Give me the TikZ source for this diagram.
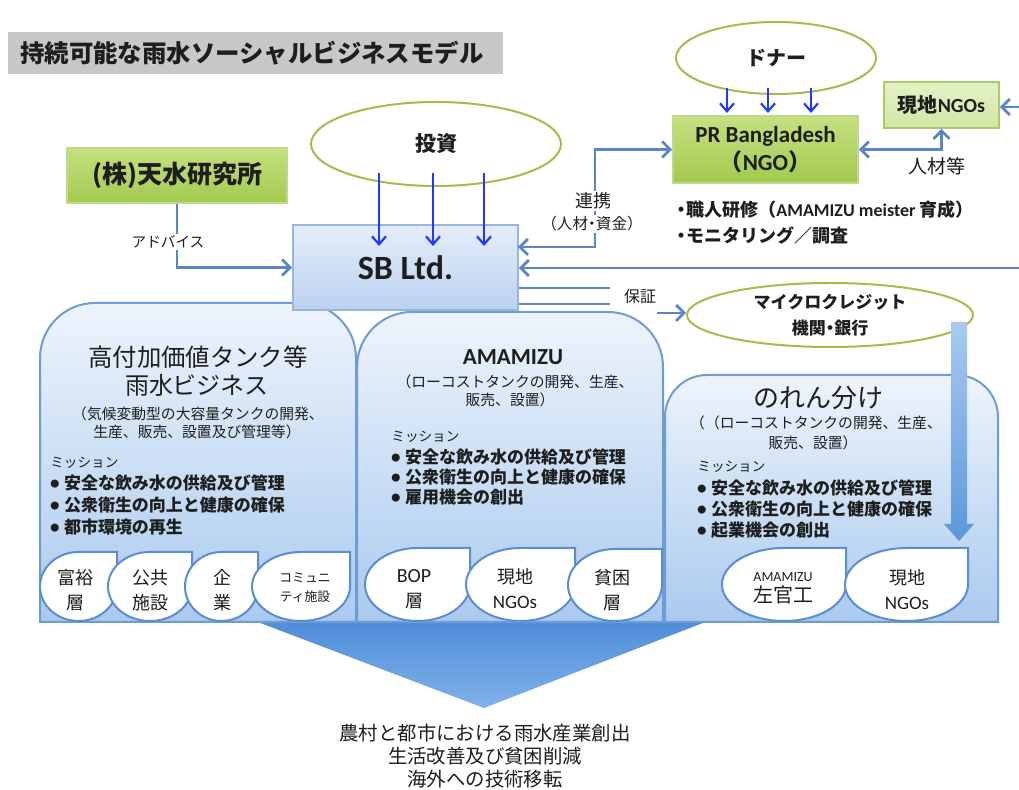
\documentclass[tikz,border=0pt]{standalone}
\usepackage{fontspec}
\setmainfont{Noto Sans CJK JP}
\newfontfamily\lat{Carlito}
\usetikzlibrary{shapes.geometric,arrows.meta}
\definecolor{txt}{HTML}{1E1E1E}
\definecolor{titlegray}{HTML}{C8C8C8}
\definecolor{olive}{HTML}{A9BA48}
\definecolor{conn}{HTML}{5A86C8}
\definecolor{barrow}{HTML}{2039FF}
\definecolor{gtop}{HTML}{C6E081}
\definecolor{gbot}{HTML}{A2C94F}
\definecolor{gdraw}{HTML}{BFD88A}
\definecolor{ltop}{HTML}{E4F1C6}
\definecolor{lbot}{HTML}{D2E7A5}
\definecolor{ldraw}{HTML}{A9CB6C}
\definecolor{sbtop}{HTML}{E5EDFA}
\definecolor{sbbot}{HTML}{BBD1F0}
\definecolor{sbdraw}{HTML}{98B5DD}
\definecolor{ptop}{HTML}{EEF4FC}
\definecolor{pbot}{HTML}{AACAEE}
\definecolor{pdraw}{HTML}{6E9CD4}
\definecolor{leafdraw}{HTML}{5A8ED0}
\definecolor{tritop}{HTML}{4F8DD8}
\definecolor{tribot}{HTML}{80B2EA}
\definecolor{bigtop}{HTML}{A8CAF0}
\definecolor{bigbot}{HTML}{5B97DC}
\tikzset{
 t/.style={inner sep=0pt, text=txt},
 ell/.style={ellipse, draw=olive, line width=1pt, fill=white, inner sep=0pt, text=txt},
 gbox/.style={rectangle, draw=gdraw, line width=0.8pt, top color=gtop, bottom color=gbot, inner sep=0pt, text=txt},
 lbox/.style={rectangle, draw=ldraw, line width=0.8pt, top color=ltop, bottom color=lbot, inner sep=0pt, text=txt},
 sbbox/.style={rectangle, draw=sbdraw, line width=0.8pt, top color=sbtop, bottom color=sbbot, inner sep=0pt, text=txt},
 link/.style={draw=conn, line width=1.4pt},
 tip/.style={-{Straight Barb[length=4pt,width=8pt]}},
 tips/.style={{Straight Barb[length=4pt,width=8pt]}-{Straight Barb[length=4pt,width=8pt]}},
 downarrow/.style={draw=barrow, line width=1.1pt, -{Straight Barb[length=4pt,width=7pt]}},
 panel/.style={draw=pdraw, line width=1pt, top color=ptop, bottom color=pbot},
 leaf/.style={draw=leafdraw, line width=1pt, fill=white},
 lab/.style={inner sep=1pt, fill=white, text=txt},
 bul/.style={t, anchor=west, font=\bfseries\fontsize{8.5}{10}\selectfont},
}
\newcommand\leafpath[4]{\draw[leaf] (#2,#3) -- ({(#1+#2)/2},#3) arc[start angle=270,end angle=0,x radius={(#2-#1)/2},y radius={(#4-#3)/2}] -- cycle;}
\newcommand\panelpath[5]{\draw[panel] (#1,#4) -- (#1,{#3+#5}) arc[start angle=180,end angle=270,radius=#5] -- ({#2-#5},#3) arc[start angle=270,end angle=360,radius=#5] -- (#2,#4) -- cycle;}
\newcommand\bdot{\makebox[0.8em][l]{\raisebox{0.12em}{\fontsize{4.5}{5}\selectfont ●}}}
\newcommand\ndot{\makebox[0.5em][c]{・}}
\begin{document}
\begin{tikzpicture}[x=0.5pt,y=-0.5pt]
\useasboundingbox (0,0) rectangle (1019,790);
\fill[white] (0,0) rectangle (1019,790);

% title
\node[fill=titlegray, minimum width=247.5pt, minimum height=21pt, inner sep=0pt] (titlebox) at (255.5,53) {};
\node[t, anchor=west, font=\bfseries\fontsize{12.2}{14}\selectfont] (title) at (20,53) {持続可能な雨水ソーシャルビジネスモデル};

% big triangle
\shade[top color=tritop, bottom color=tribot] (255,621) -- (708,621) -- (484,708) -- cycle;

% panels
\panelpath{40}{356}{303}{622}{55}
\panelpath{357}{663}{312}{622}{55}
\panelpath{665}{998}{375}{622}{42}

% leaves
\leafpath{40}{117}{552}{621}
\leafpath{108}{192}{552}{621}
\leafpath{185}{258}{552}{621}
\leafpath{252}{350}{552}{621}
\leafpath{365}{470}{548}{621}
\leafpath{466}{575}{548}{621}
\leafpath{568}{662}{549}{621}
\leafpath{722}{846}{548}{621}
\leafpath{845}{968}{548}{621}

\begin{scope}[every node/.style={t, align=center, font=\fontsize{9}{12.5}\selectfont}]
\node (l1) at (75,590) {富裕\\層};
\node (l2) at (150,590) {公共\\施設};
\node (l3) at (222,590) {企\\業};
\node[font=\fontsize{6.4}{9.5}\selectfont] (l4) at (305,588) {コミュニ\\ティ施設};
\node (m1) at (414,589) {{\lat\fontsize{10}{12}\selectfont BOP}\\層};
\node (m2) at (515,589) {現地\\{\lat\fontsize{9.5}{12}\selectfont NGOs}};
\node (m3) at (612,590) {貧困\\層};
\node[font=\fontsize{10}{10}\selectfont] (r1) at (783,595) {左官工};
\node[font=\fontsize{7}{8}\selectfont] (r1b) at (783,577) {\lat AMAMIZU};
\node (r2) at (907,590) {現地\\{\lat\fontsize{9.5}{12}\selectfont NGOs}};
\end{scope}

% left panel text
\node[t, font=\fontsize{12.2}{14}\selectfont] (p1a) at (198,357) {高付加価値タンク等};
\node[t, font=\fontsize{12}{14}\selectfont] (p1b) at (197,385) {雨水ビジネス};
\node[t, font=\fontsize{7.4}{9}\selectfont] (p1c) at (198,414) {（気候変動型の大容量タンクの開発、};
\node[t, font=\fontsize{7.4}{9}\selectfont] (p1d) at (197,432) {生産、販売、設置及び管理等）};
\node[t, anchor=west, font=\fontsize{6.8}{8}\selectfont] (p1e) at (50,463) {ミッション};
\node[bul] (p1f) at (50,483) {\bdot 安全な飲み水の供給及び管理};
\node[bul] (p1g) at (50,505) {\bdot 公衆衛生の向上と健康の確保};
\node[bul] (p1h) at (50,527) {\bdot 都市環境の再生};

% middle panel text
\node[t, font=\lat\bfseries\fontsize{11.5}{14}\selectfont] (p2a) at (513,357) {AMAMIZU};
\node[t, font=\fontsize{7.4}{9}\selectfont] (p2b) at (515,382) {（ローコストタンクの開発、生産、};
\node[t, font=\fontsize{7.4}{9}\selectfont] (p2c) at (510,400) {販売、設置）};
\node[t, anchor=west, font=\fontsize{6.8}{8}\selectfont] (p2d) at (391,437) {ミッション};
\node[bul] (p2e) at (391,457) {\bdot 安全な飲み水の供給及び管理};
\node[bul] (p2f) at (391,477) {\bdot 公衆衛生の向上と健康の確保};
\node[bul] (p2g) at (391,497) {\bdot 雇用機会の創出};

% right panel text
\node[t, font=\fontsize{13}{15}\selectfont] (p3a) at (818,398) {のれん分け};
\node[t, font=\fontsize{7.4}{9}\selectfont] (p3b) at (816,423) {（（ローコストタンクの開発、生産、};
\node[t, font=\fontsize{7.4}{9}\selectfont] (p3c) at (813,443) {販売、設置）};
\node[t, anchor=west, font=\fontsize{6.8}{8}\selectfont] (p3d) at (697,467) {ミッション};
\node[bul] (p3e) at (697,488) {\bdot 安全な飲み水の供給及び管理};
\node[bul] (p3f) at (697,509) {\bdot 公衆衛生の向上と健康の確保};
\node[bul] (p3g) at (697,530) {\bdot 起業機会の創出};

% bottom text
\node[t, font=\fontsize{9.7}{11}\selectfont] (b1) at (485,733) {農村と都市における雨水産業創出};
\node[t, font=\fontsize{9.7}{11}\selectfont] (b2) at (485,756) {生活改善及び貧困削減};
\node[t, font=\fontsize{9.7}{11}\selectfont] (b3) at (485,779) {海外への技術移転};

% ellipses
\node[ell, minimum width=125pt, minimum height=42pt, font=\bfseries\fontsize{10.5}{12}\selectfont] (invest) at (436,144) {投資};
\node[ell, minimum width=100pt, minimum height=36pt, font=\bfseries\fontsize{10}{12}\selectfont] (donor) at (776,58) {ドナー};
\node[ell, minimum width=143pt, minimum height=32pt, align=center, font=\bfseries\fontsize{8.5}{13}\selectfont] (micro) at (830,315) {マイクロクレジット\\機関{\ndot}銀行};

% big block arrow
\shade[top color=bigtop, bottom color=bigbot] (951,322) -- (967,322) -- (967,524) -- (974,524) -- (959,541) -- (944,524) -- (951,524) -- cycle;

% boxes
\node[gbox, minimum width=110pt, minimum height=27.5pt, font=\bfseries\fontsize{12.5}{14}\selectfont] (tensui) at (177,175.5) {(株)天水研究所};
\node[sbbox, minimum width=112.5pt, minimum height=42.5pt, font=\lat\bfseries\fontsize{17}{20}\selectfont] (sb) at (405.5,267.5) {SB Ltd.};
\node[gbox, minimum width=92.5pt, minimum height=33.5pt, align=center, font=\bfseries\fontsize{11.5}{14}\selectfont] (pr) at (765.5,149.5) {{\lat PR Bangladesh}\\（{\lat NGO}）};
\node[lbox, minimum width=57.5pt, minimum height=23pt, font=\bfseries\fontsize{10}{12}\selectfont] (ngo) at (941.5,105) {現地{\lat NGOs}};

% text under PR
\node[t, anchor=west, font=\bfseries\fontsize{9}{11}\selectfont] (prt1) at (677,210) {\ndot 職人研修（{\lat AMAMIZU meister} 育成）};
\node[t, anchor=west, font=\bfseries\fontsize{9}{11}\selectfont] (prt2) at (677,236) {\ndot モニタリング／調査};

% blue arrows
\coordinate (i1) at (379,173);
\coordinate (i2) at (433,173);
\coordinate (i3) at (484,173);
\draw[downarrow] (i1) -- ++(0,73);
\draw[downarrow] (i2) -- ++(0,73);
\draw[downarrow] (i3) -- ++(0,73);
\coordinate (d1) at (727,88);
\coordinate (d2) at (768,88);
\coordinate (d3) at (811,88);
\draw[downarrow] (d1) -- ++(0,25);
\draw[downarrow] (d2) -- ++(0,25);
\draw[downarrow] (d3) -- ++(0,25);

% connectors
\draw[link, tip] (tensui.south) |- (sb.west);
\node[lab, font=\fontsize{7.3}{9}\selectfont] (advice) at (168,242) {アドバイス};

\coordinate (sbA) at (518,247);
\draw[link, tips] (sbA) -- (595,247) |- (pr.west);
\node[lab, font=\fontsize{9}{11}\selectfont] (renkei) at (593,201) {連携};
\node[lab, font=\fontsize{7.8}{9}\selectfont] (renkei2) at (592,224) {（人材{\ndot}資金）};

\draw[link, tips] (pr.east) -| (ngo.south);
\node[t, font=\fontsize{9.5}{11}\selectfont] (jinzai) at (937,166) {人材等};

\coordinate (redge) at (1019,268);
\draw[link, tip] (redge) -- (redge -| sb.east);
\coordinate (redge2) at (1019,107);
\draw[link, tip] (redge2) -- (redge2 -| ngo.east);

\coordinate (g1) at (610,288);
\coordinate (g2) at (610,304);
\draw[link] (g1 -| sb.east) -- (g1);
\draw[link] (g2 -| sb.east) -- (g2);
\node[t, font=\fontsize{8}{10}\selectfont] (hosho) at (640,296) {保証};
\coordinate (g3) at (657,313);
\draw[link, tip] (g3) -- (g3 -| micro.west);
\end{tikzpicture}
\end{document}
